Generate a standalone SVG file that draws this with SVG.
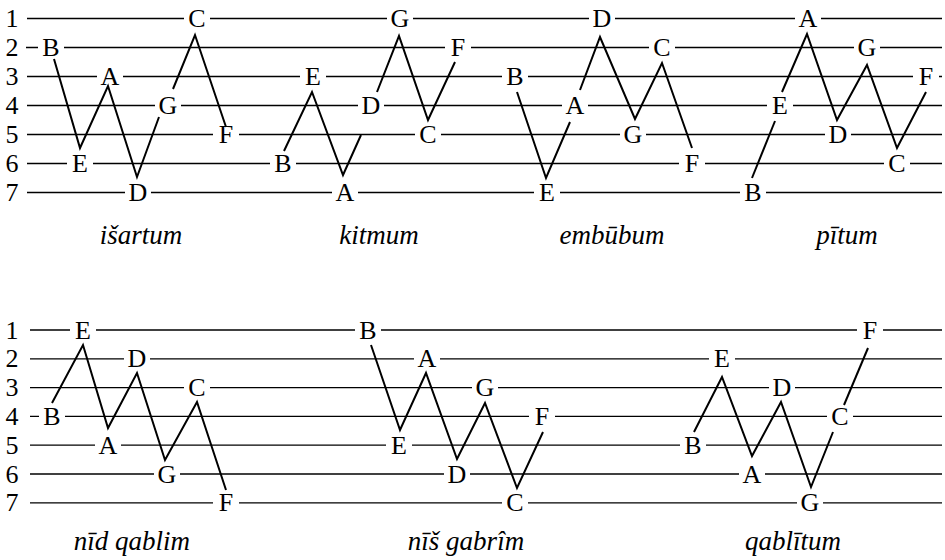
<svg xmlns="http://www.w3.org/2000/svg" width="945" height="560" viewBox="0 0 945 560">
<style>
.staff line{stroke:#000;stroke-width:1.3}
.num{font-family:"Liberation Serif",serif;font-size:26px;text-anchor:middle;fill:#000}
.n text{font-family:"Liberation Serif",serif;font-size:26px;text-anchor:middle;fill:#000}
.n rect{fill:#fff;width:26px;height:6px}
.conn polyline{fill:none;stroke:#000;stroke-width:2;stroke-linejoin:miter}
.cap{font-family:"Liberation Serif",serif;font-style:italic;font-size:27px;text-anchor:middle;fill:#000}
</style>
<rect width="945" height="560" fill="#fff"/>
<g class="staff" id="staff-top">
<line x1="27" y1="18.5" x2="942" y2="18.5"/>
<line x1="26" y1="47.5" x2="942" y2="47.5"/>
<line x1="27" y1="76.5" x2="942" y2="76.5"/>
<line x1="27" y1="105.5" x2="942" y2="105.5"/>
<line x1="27" y1="134.5" x2="942" y2="134.5"/>
<line x1="27" y1="163.5" x2="942" y2="163.5"/>
<line x1="27" y1="192.5" x2="942" y2="192.5"/>
</g>
<g class="staff" id="staff-bottom">
<line x1="30" y1="330" x2="942" y2="330"/>
<line x1="30" y1="358.8" x2="942" y2="358.8"/>
<line x1="30" y1="387.6" x2="942" y2="387.6"/>
<line x1="30" y1="416.4" x2="942" y2="416.4"/>
<line x1="30" y1="445.2" x2="942" y2="445.2"/>
<line x1="30" y1="474" x2="942" y2="474"/>
<line x1="30" y1="502.8" x2="942" y2="502.8"/>
</g>
<g id="numbers-top">
<text class="num" x="12" y="27">1</text>
<text class="num" x="12" y="56">2</text>
<text class="num" x="12" y="85">3</text>
<text class="num" x="12" y="114">4</text>
<text class="num" x="12" y="143">5</text>
<text class="num" x="12" y="172">6</text>
<text class="num" x="12" y="201">7</text>
</g>
<g id="numbers-bottom">
<text class="num" x="12" y="338.5">1</text>
<text class="num" x="12" y="367.3">2</text>
<text class="num" x="12" y="396.1">3</text>
<text class="num" x="12" y="424.9">4</text>
<text class="num" x="12" y="453.7">5</text>
<text class="num" x="12" y="482.5">6</text>
<text class="num" x="12" y="511.3">7</text>
</g>
<g class="n" id="isartum">
<g id="n1-C"><rect x="184" y="15.5"/><text x="197" y="27">C</text></g>
<g id="n1-B"><rect x="38" y="44.5"/><text x="51" y="56">B</text></g>
<g id="n1-A"><rect x="97" y="73.5"/><text x="110" y="85">A</text></g>
<g id="n1-G"><rect x="155" y="102.5"/><text x="168" y="114">G</text></g>
<g id="n1-F"><rect x="213" y="131.5"/><text x="226" y="143">F</text></g>
<g id="n1-E"><rect x="67" y="160.5"/><text x="80" y="172">E</text></g>
<g id="n1-D"><rect x="125" y="189.5"/><text x="138" y="201">D</text></g>
</g>
<g class="n" id="kitmum">
<g id="n2-G"><rect x="387" y="15.5"/><text x="400" y="27">G</text></g>
<g id="n2-F"><rect x="445" y="44.5"/><text x="458" y="56">F</text></g>
<g id="n2-E"><rect x="300" y="73.5"/><text x="313" y="85">E</text></g>
<g id="n2-D"><rect x="358" y="102.5"/><text x="371" y="114">D</text></g>
<g id="n2-C"><rect x="415" y="131.5"/><text x="428" y="143">C</text></g>
<g id="n2-B"><rect x="270" y="160.5"/><text x="283" y="172">B</text></g>
<g id="n2-A"><rect x="332" y="189.5"/><text x="345" y="201">A</text></g>
</g>
<g class="n" id="embubum">
<g id="n3-D"><rect x="589" y="15.5"/><text x="602" y="27">D</text></g>
<g id="n3-C"><rect x="649" y="44.5"/><text x="662" y="56">C</text></g>
<g id="n3-B"><rect x="502" y="73.5"/><text x="515" y="85">B</text></g>
<g id="n3-A"><rect x="562" y="102.5"/><text x="575" y="114">A</text></g>
<g id="n3-G"><rect x="620" y="131.5"/><text x="633" y="143">G</text></g>
<g id="n3-F"><rect x="679" y="160.5"/><text x="692" y="172">F</text></g>
<g id="n3-E"><rect x="534" y="189.5"/><text x="547" y="201">E</text></g>
</g>
<g class="n" id="pitum">
<g id="n4-A"><rect x="795" y="15.5"/><text x="808" y="27">A</text></g>
<g id="n4-G"><rect x="854" y="44.5"/><text x="867" y="56">G</text></g>
<g id="n4-F"><rect x="913" y="73.5"/><text x="926" y="85">F</text></g>
<g id="n4-E"><rect x="767" y="102.5"/><text x="780" y="114">E</text></g>
<g id="n4-D"><rect x="825" y="131.5"/><text x="838" y="143">D</text></g>
<g id="n4-C"><rect x="884" y="160.5"/><text x="897" y="172">C</text></g>
<g id="n4-B"><rect x="740" y="189.5"/><text x="753" y="201">B</text></g>
</g>
<g class="n" id="nidqablim">
<g id="n5-E"><rect x="70" y="327"/><text x="83" y="338.5">E</text></g>
<g id="n5-D"><rect x="124" y="355.8"/><text x="137" y="367.3">D</text></g>
<g id="n5-C"><rect x="184" y="384.6"/><text x="197" y="396.1">C</text></g>
<g id="n5-B"><rect x="39" y="413.4"/><text x="52" y="424.9">B</text></g>
<g id="n5-A"><rect x="95" y="442.2"/><text x="108" y="453.7">A</text></g>
<g id="n5-G"><rect x="154" y="471"/><text x="167" y="482.5">G</text></g>
<g id="n5-F"><rect x="213" y="499.8"/><text x="226" y="511.3">F</text></g>
</g>
<g class="n" id="nisgabrim">
<g id="n6-B"><rect x="355" y="327"/><text x="368" y="338.5">B</text></g>
<g id="n6-A"><rect x="414" y="355.8"/><text x="427" y="367.3">A</text></g>
<g id="n6-G"><rect x="472" y="384.6"/><text x="485" y="396.1">G</text></g>
<g id="n6-F"><rect x="529" y="413.4"/><text x="542" y="424.9">F</text></g>
<g id="n6-E"><rect x="386" y="442.2"/><text x="399" y="453.7">E</text></g>
<g id="n6-D"><rect x="444" y="471"/><text x="457" y="482.5">D</text></g>
<g id="n6-C"><rect x="502" y="499.8"/><text x="515" y="511.3">C</text></g>
</g>
<g class="n" id="qablitum">
<g id="n7-F"><rect x="857" y="327"/><text x="870" y="338.5">F</text></g>
<g id="n7-E"><rect x="709" y="355.8"/><text x="722" y="367.3">E</text></g>
<g id="n7-D"><rect x="769" y="384.6"/><text x="782" y="396.1">D</text></g>
<g id="n7-C"><rect x="827" y="413.4"/><text x="840" y="424.9">C</text></g>
<g id="n7-B"><rect x="680" y="442.2"/><text x="693" y="453.7">B</text></g>
<g id="n7-A"><rect x="739" y="471"/><text x="752" y="482.5">A</text></g>
<g id="n7-G"><rect x="797" y="499.8"/><text x="810" y="511.3">G</text></g>
</g>
<g class="conn" id="connectors">
<polyline points="54,59 80,148 108,86 137,177 159,117"/>
<polyline points="173,89 195,35 226,127"/>
<polyline points="284,151 312,92 343,175 361,135"/>
<polyline points="377,92 399,36 428,120 455,62"/>
<polyline points="517,92 546,178 570,122"/>
<polyline points="580,90 600,37 635,119 662,63 692,148"/>
<polyline points="752,178 775,121"/>
<polyline points="782,92 807,34 837,120 867,65 897,148 926,92"/>
<polyline points="52,403 83,345 108,428 137,373 165,460 197,402 226,490"/>
<polyline points="371,345 400,430 426,373 457,459 485,403 517,488 543,432"/>
<polyline points="694,432 722,377 752,456 781,402 811,487 833,432"/>
<polyline points="844,405 868,348"/>
</g>
<g id="captions">
<text class="cap" x="141" y="244">išartum</text>
<text class="cap" x="379" y="244">kitmum</text>
<text class="cap" x="612" y="244">embūbum</text>
<text class="cap" x="847" y="244">pītum</text>
<text class="cap" x="132" y="550">nīd qablim</text>
<text class="cap" x="466" y="550">nīš gabrîm</text>
<text class="cap" x="793" y="550">qablītum</text>
</g>
</svg>
